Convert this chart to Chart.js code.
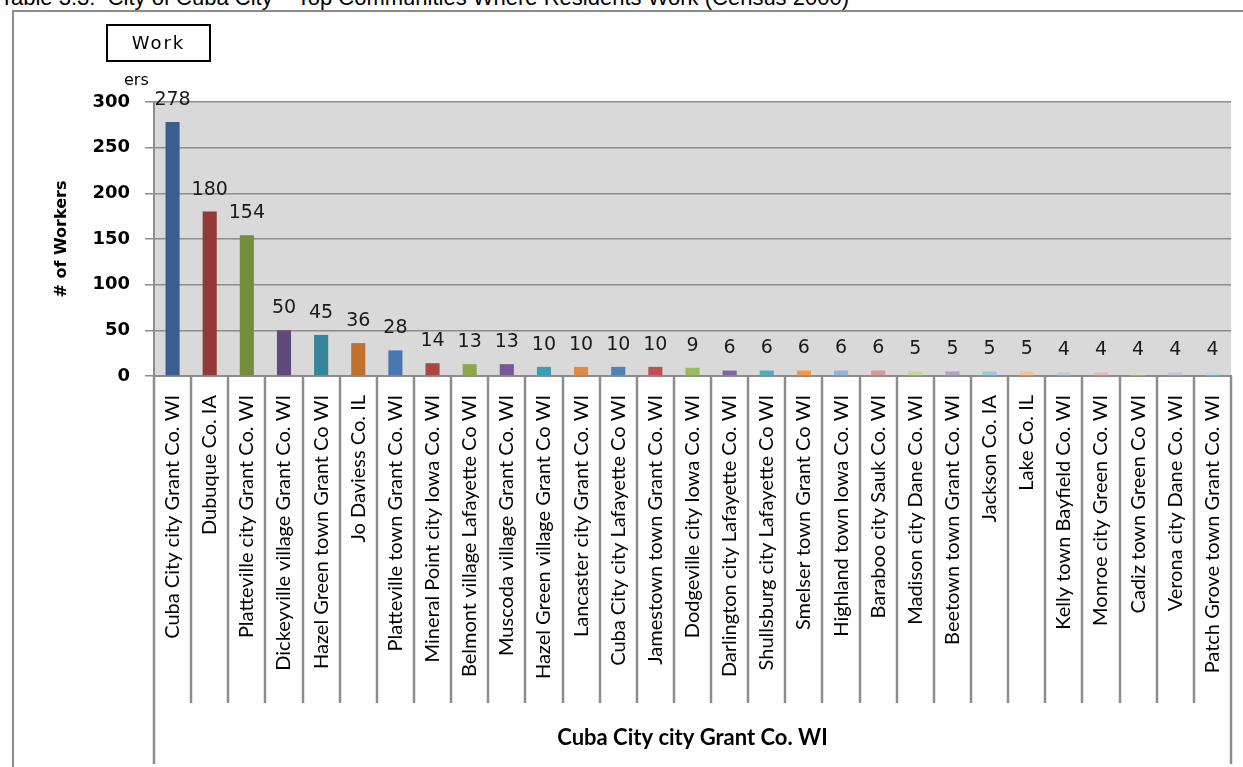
<!DOCTYPE html>
<html><head><meta charset="utf-8">
<script src="https://cdn.jsdelivr.net/npm/chart.js@4.4.1/dist/chart.umd.min.js"></script>
<style>
html,body{margin:0;padding:0;background:#fff;overflow:hidden;}
#wrap{position:relative;width:1243px;height:767px;overflow:hidden;}
#cap{position:absolute;left:0;top:-13px;font-family:"Liberation Sans",Arial,sans-serif;font-size:22px;line-height:22px;white-space:nowrap;color:#000;}
#frame{position:absolute;left:12px;top:10px;width:1240px;height:780px;border-top:2px solid #8c8c8c;border-left:2px solid #8c8c8c;box-sizing:border-box;}
#legbox{position:absolute;left:106px;top:24px;width:105px;height:38px;border:2px solid #000;box-sizing:border-box;font-family:"DejaVu Sans",sans-serif;font-size:18px;letter-spacing:2px;text-align:center;line-height:34px;color:#000;}
#ers{position:absolute;left:124px;top:70px;font-family:"DejaVu Sans",sans-serif;font-size:16px;color:#000;}
canvas{position:absolute;left:0;top:0;}
</style>
</head><body>
<div id="wrap">
<div id="frame"></div>
<div id="cap">Table 3.3:&nbsp; City of Cuba City &ndash; Top Communities Where Residents Work (Census 2000)</div>
<canvas id="c" width="1243" height="767"></canvas>
<div id="legbox">Work</div>
<div id="ers">ers</div>
</div>
<script>
const categories = [
  "Cuba City city Grant Co. WI",
  "Dubuque Co. IA",
  "Platteville city Grant Co. WI",
  "Dickeyville village Grant Co. WI",
  "Hazel Green town Grant Co WI",
  "Jo Daviess Co. IL",
  "Platteville town Grant Co. WI",
  "Mineral Point city Iowa Co. WI",
  "Belmont village Lafayette Co WI",
  "Muscoda village Grant Co. WI",
  "Hazel Green village Grant Co WI",
  "Lancaster city Grant Co. WI",
  "Cuba City city Lafayette Co WI",
  "Jamestown town Grant Co. WI",
  "Dodgeville city Iowa Co. WI",
  "Darlington city Lafayette Co. WI",
  "Shullsburg city Lafayette Co WI",
  "Smelser town Grant Co WI",
  "Highland town Iowa Co. WI",
  "Baraboo city Sauk Co. WI",
  "Madison city Dane Co. WI",
  "Beetown town Grant Co. WI",
  "Jackson Co. IA",
  "Lake Co. IL",
  "Kelly town Bayfield Co. WI",
  "Monroe city Green Co. WI",
  "Cadiz town Green Co WI",
  "Verona city Dane Co. WI",
  "Patch Grove town Grant Co. WI"
];
const workers = [278,180,154,50,45,36,28,14,13,13,10,10,10,10,9,6,6,6,6,6,5,5,5,5,4,4,4,4,4];
const barColors = [
  "#3a5f8f","#923a37","#748e3e","#5f4a7b","#36849a","#c0712f","#4876b0",
  "#a94543","#8ba84b","#77599a","#3c9db6","#e68a3d","#4f81bd","#c0504d",
  "#9bbb59","#8064a2","#4bacc6","#f79646","#95b3d7","#d99694","#c3d69b",
  "#b3a2c7","#93cddd","#fac090","#b9cde5","#e6b9b8","#d7e4bd","#ccc1da","#b7dee8"
];
const yTitle = "# of Workers";
const xTitle = "Cuba City city Grant Co. WI";
const yMin = 0, yMax = 300, yStep = 50;

const bgPlugin = {
  id: 'plotBg',
  beforeDraw(chart) {
    const {ctx, chartArea: a} = chart;
    ctx.save();
    ctx.fillStyle = '#d9d9d9';
    ctx.fillRect(a.left, a.top, a.right - a.left, a.bottom - a.top);
    ctx.restore();
  }
};
const sepPlugin = {
  id: 'separators',
  afterDraw(chart) {
    const {ctx, chartArea: a} = chart;
    const xs = chart.scales.x;
    const n = categories.length;
    ctx.save();
    ctx.strokeStyle = '#8c8c8c';
    ctx.lineWidth = 2.5;
    for (let i = 0; i <= n; i++) {
      const x = Math.round(xs.getPixelForValue(i - 0.5));
      const end = (i === 0 || i === n) ? 764 : 703;
      ctx.beginPath();
      ctx.moveTo(x, a.bottom);
      ctx.lineTo(x, end);
      ctx.stroke();
    }
    ctx.restore();
  }
};
const labelPlugin = {
  id: 'valueLabels',
  afterDatasetsDraw(chart) {
    const {ctx} = chart;
    const meta = chart.getDatasetMeta(0);
    ctx.save();
    ctx.font = '19px "DejaVu Sans"';
    ctx.fillStyle = '#1a1a1a';
    ctx.textAlign = 'center';
    ctx.textBaseline = 'middle';
    meta.data.forEach((bar, i) => {
      ctx.fillText(String(workers[i]), bar.x, bar.y - 22);
    });
    ctx.restore();
  }
};

new Chart(document.getElementById('c'), {
  type: 'bar',
  data: {
    labels: categories,
    datasets: [{
      label: 'Workers',
      data: workers,
      backgroundColor: barColors,
      borderWidth: 0,
      categoryPercentage: 1,
      barPercentage: 0.38
    }]
  },
  options: {
    responsive: false,
    animation: false,
    devicePixelRatio: 1,
    layout: {padding: {top: 102, right: 12, left: 0, bottom: 0}},
    plugins: {legend: {display: false}, tooltip: {enabled: false}, title: {display: false}},
    scales: {
      x: {
        offset: true,
        grid: {display: false, drawTicks: false},
        border: {display: true, color: '#8c8c8c', width: 2},
        ticks: {
          autoSkip: false, minRotation: 90, maxRotation: 90, padding: 19,
          color: '#000', font: {family: 'Lato', size: 20}
        },
        title: {display: true, text: xTitle, color: '#000',
          font: {family: 'Lato', size: 22, weight: 'bold'},
          padding: {top: 0, bottom: 16}},
        afterFit(s) { s.height = 391; s.paddingLeft = 0; s.paddingRight = 0; }
      },
      y: {
        min: yMin, max: yMax,
        ticks: {stepSize: yStep, padding: 15, color: '#000',
          font: {family: '"DejaVu Sans"', size: 18, weight: 'bold'}},
        grid: {color: '#8c8c8c', lineWidth: 1.5, tickLength: 9, drawTicks: true},
        border: {display: true, color: '#8c8c8c', width: 2},
        title: {display: true, text: yTitle, color: '#000',
          font: {family: '"DejaVu Sans"', size: 16, weight: 'bold'},
          padding: {top: 52, bottom: 0}},
        afterFit(s) { s.width = 154; }
      }
    }
  },
  plugins: [bgPlugin, sepPlugin, labelPlugin]
});
</script>
</body></html>
